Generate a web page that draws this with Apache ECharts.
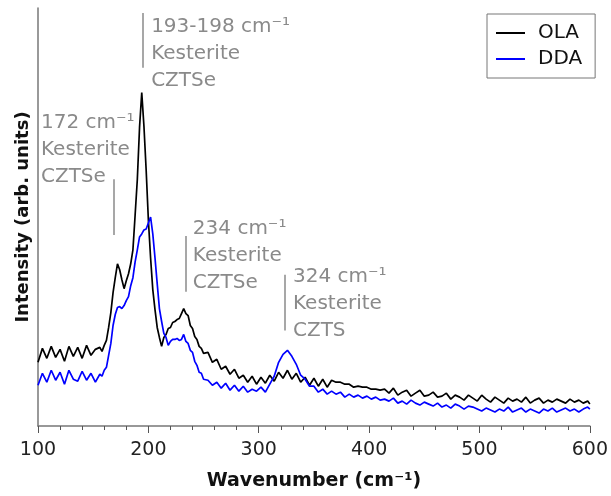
<!DOCTYPE html>
<html>
<head>
<meta charset="utf-8">
<script src="https://cdn.jsdelivr.net/npm/echarts@6/dist/echarts.min.js"></script>
<style>html,body{margin:0;padding:0;background:#fff}#c{width:611px;height:496px}</style>
</head>
<body>
<div id="c"></div>
<script>
// Wavenumber (cm^-1)
const wavenumber = [
  100,104,108,112,116,120,124,128,132,136,140,144,148,152,156,
  158,160,162,164,166,168,170,172,174,176,
  178,180,182,184,186,188,190,192,194,196,
  198,200,202,204,206,208,210,212,214,216,
  218,220,222,224,226,228,230,232,234,236,
  238,240,242,244,246,248,250,
  254,258,262,266,270,274,278,282,286,290,
  294,298,302,306,310,314,318,322,326,330,
  334,338,342,346,350,354,358,362,366,370,
  374,378,382,386,390,394,398,402,406,410,
  414,418,422,426,430,434,438,442,446,450,
  454,458,462,466,470,474,478,482,486,490,
  494,498,502,506,510,514,518,522,526,530,
  534,538,542,546,550,554,558,562,566,570,
  574,578,582,586,590,594,598,600
];
// OLA intensity (arb. units)
const ola = [
  64,78,68,80,69,77,65,80,70,79,68,81,71,77,79,
  75,81,86,99,114,134,149,163,157,147,
  138,146,153,163,177,212,248,300,335,301,
  257,207,169,137,117,99,89,80,89,92,
  98,99,104,105,107,108,113,118,113,111,
  101,98,90,87,80,78,73,
  74,64,67,57,60,52,57,48,51,44,
  50,42,49,43,51,45,54,48,56,47,
  53,44,49,41,48,40,47,39,46,44,
  44,42,42,39,40,39,39,37,37,36,
  37,33,38,31,34,36,30,33,36,30,
  31,34,29,30,33,27,31,29,26,31,
  28,25,31,27,24,29,26,23,28,25,
  27,24,29,23,26,28,23,26,24,27,
  25,23,27,24,26,23,25,22
];
// DDA intensity (arb. units)
const dda = [
  41,53,44,56,46,54,42,56,47,45,55,46,53,44,52,
  50,56,59,71,83,101,112,119,120,118,
  121,126,130,141,149,165,177,190,193,197,
  198,204,210,193,169,143,118,105,93,89,
  81,85,87,87,88,86,87,92,85,83,
  76,74,65,61,54,53,47,
  46,41,44,38,43,36,41,35,40,34,
  37,35,39,34,42,50,64,72,76,70,
  62,51,47,40,40,34,37,32,35,32,
  34,29,32,29,31,28,30,27,29,26,
  27,25,28,23,25,22,26,23,21,24,
  22,20,23,19,21,18,22,20,17,20,
  19,17,15,18,16,14,17,15,19,14,
  16,18,14,17,15,13,17,15,18,14,
  16,18,15,17,14,17,19,17
];
const seriesNames = ['OLA', 'DDA'];
const xTicks = [100, 200, 300, 400, 500, 600];

// Peak annotations
const peakWn = [195.3, 169, 234, 324];
const peakLabels = [
  ['193-198 cm⁻¹', 'Kesterite', 'CZTSe'],
  ['172 cm⁻¹', 'Kesterite', 'CZTSe'],
  ['234 cm⁻¹', 'Kesterite', 'CZTSe'],
  ['324 cm⁻¹', 'Kesterite', 'CZTS']
];
// annotation placement (data coords)
const annLine = [[415, 360], [248, 192], [191, 135], [152, 96]];
const annText = [[202.5, 414.5], [102.7, 318], [240.3, 212], [331, 163]];

const FONT = '"DejaVu Sans", sans-serif';
const GRAY = '#8a8a8a';

const chart = echarts.init(document.getElementById('c'), null, {renderer: 'canvas'});

const toPairs = (ys) => wavenumber.map((x, i) => [x, ys[i]]);

const option = {
  animation: false,
  backgroundColor: '#fff',
  grid: {left: 38, right: 17, top: 8, bottom: 69},
  legend: {
    orient: 'vertical',
    left: 487, top: 14,
    data: seriesNames,
    icon: 'rect',
    itemWidth: 29, itemHeight: 2, itemGap: 6,
    padding: [9, 13, 9, 9],
    borderColor: '#777', borderWidth: 1,
    backgroundColor: '#fff',
    textStyle: {fontFamily: FONT, fontSize: 20, color: '#111', padding: [0, 0, 0, 8]}
  },
  xAxis: {
    type: 'value', min: xTicks[0], max: xTicks[xTicks.length - 1], interval: 100,
    name: 'Wavenumber (cm⁻¹)', nameLocation: 'middle', nameGap: 46,
    nameTextStyle: {fontFamily: FONT, fontSize: 19, fontWeight: 'bold', color: '#111'},
    axisLine: {lineStyle: {color: '#777', width: 1.5}},
    axisTick: {show: true, length: 7, lineStyle: {color: '#555'}},
    minorTick: {show: true, splitNumber: 5, length: 4, lineStyle: {color: '#555'}},
    splitLine: {show: false},
    axisLabel: {fontFamily: FONT, fontSize: 19, color: '#222', margin: 15}
  },
  yAxis: {
    type: 'value', min: 0, max: 420,
    name: 'Intensity (arb. units)', nameLocation: 'middle', nameGap: 6,
    nameTextStyle: {fontFamily: FONT, fontSize: 18, fontWeight: 'bold', color: '#111'},
    axisLine: {show: true, lineStyle: {color: '#777', width: 1.5}},
    axisTick: {show: false},
    axisLabel: {show: false},
    splitLine: {show: false}
  },
  series: [
    {
      name: seriesNames[0], type: 'line', data: toPairs(ola), symbol: 'none',
      lineStyle: {color: '#000', width: 1.7}, itemStyle: {color: '#000'},
      markLine: {
        silent: true, symbol: ['none', 'none'], label: {show: false},
        lineStyle: {color: GRAY, type: 'solid', width: 1.5},
        data: peakWn.map((w, i) => [{coord: [w, annLine[i][0]]}, {coord: [w, annLine[i][1]]}])
      }
    },
    {
      name: seriesNames[1], type: 'line', data: toPairs(dda), symbol: 'none',
      lineStyle: {color: '#0000ff', width: 1.7}, itemStyle: {color: '#0000ff'}
    }
  ]
};
chart.setOption(option);

const graphics = peakLabels.map((lines, i) => {
  const p = chart.convertToPixel({gridIndex: 0}, annText[i]);
  return {
    type: 'text', x: p[0], y: p[1], silent: true,
    style: {
      text: lines.join('\n'), fill: GRAY,
      font: '20px ' + FONT, lineHeight: 27,
      textAlign: 'left', textVerticalAlign: 'top'
    }
  };
});
chart.setOption({graphic: graphics});
</script>
</body>
</html>
